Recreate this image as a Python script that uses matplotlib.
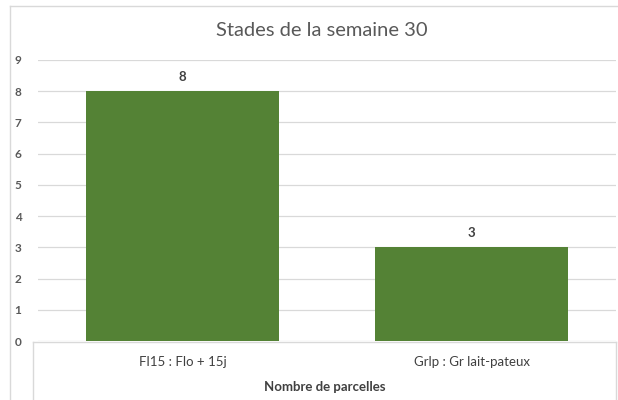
#!/usr/bin/env python3
"""Bar chart: Stades de la semaine 30."""
import matplotlib
matplotlib.use('Agg')
import matplotlib.pyplot as plt
from matplotlib.lines import Line2D

categories = ['Fl15 : Flo + 15j', 'Grlp : Gr lait-pateux']
values = [8, 3]
yticks = list(range(0, 10))

GREEN = '#548235'
TEXT = '#595959'
GRID = '#d9d9d9'

plt.rcParams['font.family'] = ['Lato', 'DejaVu Sans']

W, H = 618, 400
fig = plt.figure(figsize=(W / 100, H / 100), dpi=100)


def fx(px):
    return px / W


def fy(py):
    return 1 - py / H


# axes: y=0 at 341 px, y=9 at 60 px
ax = fig.add_axes([fx(38), fy(341), fx(616) - fx(38), fy(60) - fy(341)])
x = range(len(categories))
bars = ax.bar(x, values, width=0.667, color=GREEN, zorder=3)
ax.set_xlim(-0.5, len(categories) - 0.5)
ax.set_ylim(0, 9)
ax.set_yticks(yticks)
ax.set_yticklabels([str(t) for t in yticks], color=TEXT, fontsize=8.5, fontweight='bold')
ax.tick_params(axis='y', length=0, pad=12)
ax.set_xticks([])
for s in ax.spines.values():
    s.set_visible(False)
ax.yaxis.grid(True, color=GRID, linewidth=0.9, zorder=0)

for b, v in zip(bars, values):
    ax.annotate(str(v), (b.get_x() + b.get_width() / 2, v), xytext=(0, 6),
                textcoords='offset points', ha='center', va='bottom',
                color='#404040', fontsize=9.5, fontweight='bold')

# category labels below the axis (table-like box)
for i, c in enumerate(categories):
    fig.text(fx(38) + (i + 0.5) * (fx(616) - fx(38)) / len(categories), fy(362), c,
             ha='center', va='center', color='#404040', fontsize=9.5)
fig.text(fx(325), fy(387), 'Nombre de parcelles', ha='center', va='center',
         color='#404040', fontsize=9.5, fontweight='bold')

# table box
box = dict(color=GRID, linewidth=1.0, transform=fig.transFigure)
fig.add_artist(Line2D([fx(33), fx(616)], [fy(342), fy(342)], **box))
fig.add_artist(Line2D([fx(33), fx(33)], [fy(342), 0], **box))
fig.add_artist(Line2D([fx(616), fx(616)], [fy(342), 0], **box))

# outer chart border
outer = dict(color=GRID, linewidth=1.0, transform=fig.transFigure)
fig.add_artist(Line2D([fx(10), 1], [fy(6), fy(6)], **outer))
fig.add_artist(Line2D([fx(10), fx(10)], [fy(6), 0], **outer))

fig.text(fx(322), fy(31), 'Stades de la semaine 30', ha='center', va='center',
         color=TEXT, fontsize=14.5)

fig.savefig('out.png', dpi=100)
